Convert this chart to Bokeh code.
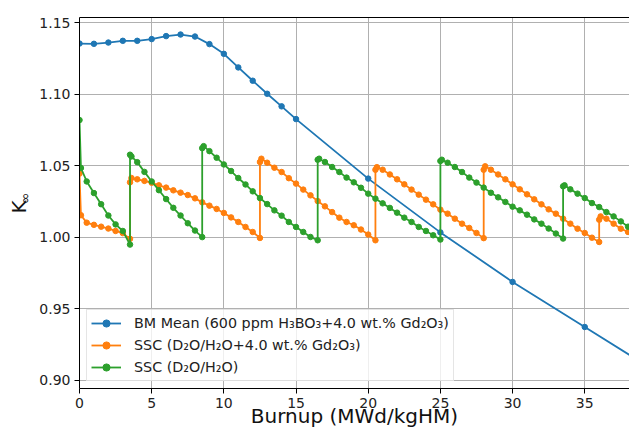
import math
from bokeh.plotting import figure
from bokeh.models import Range1d, FixedTicker, LinearAxis, Label, Title
from bokeh.embed import file_html
from bokeh.resources import INLINE

# ---------------- data ----------------
bm_x = [0, 1, 2, 3, 4, 5, 6, 7, 8, 9, 10, 11, 12, 13, 14, 15, 20, 25, 30, 35, 40]
bm_y = [1.1355, 1.1353, 1.1362, 1.1374, 1.1374, 1.1386, 1.1407, 1.1418, 1.1404, 1.1351,
        1.1283, 1.1188, 1.1095, 1.1004, 1.0916, 1.0827, 1.0411, 1.0035, 0.9689, 0.9374, 0.9059]

gd_x = [0, 0.1, 0.5, 1.0, 1.5, 2.0, 2.5, 3.0, 3.5,
        3.5, 3.6, 4.0, 4.5, 5.0, 5.5, 6.0, 6.5, 7.0, 7.5, 8.0, 8.5, 9.0, 9.5, 10.0, 10.5, 11.0, 11.5, 12.0, 12.5,
        12.5, 12.6, 13.0, 13.5, 14.0, 14.5, 15.0, 15.5, 16.0, 16.5, 17.0, 17.5, 18.0, 18.5, 19.0, 19.5, 20.0, 20.5,
        20.5, 20.6, 21.0, 21.5, 22.0, 22.5, 23.0, 23.5, 24.0, 24.5, 25.0, 25.5, 26.0, 26.5, 27.0, 27.5, 28.0,
        28.0, 28.1, 28.5, 29.0, 29.5, 30.0, 30.5, 31.0, 31.5, 32.0, 32.5, 33.0, 33.5, 34.0, 34.5, 35.0, 35.5, 36.0,
        36.0, 36.1, 36.5, 37.0, 37.5, 38.0, 38.5]
gd_y = [1.0446, 1.0155, 1.0103, 1.0088, 1.0075, 1.0062, 1.0045, 1.0030, 0.9990,
        1.0385, 1.0415, 1.0406, 1.0395, 1.0382, 1.0364, 1.0348, 1.0329, 1.0313, 1.0296, 1.0273, 1.0245, 1.0222,
        1.0199, 1.0171, 1.0140, 1.0108, 1.0073, 1.0038, 0.9996,
        1.0527, 1.0550, 1.0522, 1.0487, 1.0457, 1.0414, 1.0376, 1.0334, 1.0294, 1.0254, 1.0217, 1.0177, 1.0138,
        1.0108, 1.0085, 1.0055, 1.0020, 0.9980,
        1.0473, 1.0491, 1.0473, 1.0440, 1.0406, 1.0371, 1.0334, 1.0299, 1.0264, 1.0231, 1.0194, 1.0166, 1.0131,
        1.0096, 1.0066, 1.0031, 0.9995,
        1.0473, 1.0497, 1.0473, 1.0440, 1.0406, 1.0371, 1.0336, 1.0301, 1.0266, 1.0231, 1.0196, 1.0166, 1.0131,
        1.0096, 1.0061, 1.0031, 0.9998, 0.9968,
        1.0124, 1.0147, 1.0131, 1.0096, 1.0061, 1.0038, 1.0005]

ssc_x = [0, 0.1, 0.5, 1.0, 1.5, 2.0, 2.5, 3.0, 3.5,
         3.5, 3.6, 4.0, 4.5, 5.0, 5.5, 6.0, 6.5, 7.0, 7.5, 8.0, 8.5,
         8.5, 8.6, 9.0, 9.5, 10.0, 10.5, 11.0, 11.5, 12.0, 12.5, 13.0, 13.5, 14.0, 14.5, 15.0, 15.5, 16.0, 16.5,
         16.5, 16.6, 17.0, 17.5, 18.0, 18.5, 19.0, 19.5, 20.0, 20.5, 21.0, 21.5, 22.0, 22.5, 23.0, 23.5, 24.0, 24.5, 25.0,
         25.0, 25.1, 25.5, 26.0, 26.5, 27.0, 27.5, 28.0, 28.5, 29.0, 29.5, 30.0, 30.5, 31.0, 31.5, 32.0, 32.5, 33.0, 33.5,
         33.5, 33.6, 34.0, 34.5, 35.0, 35.5, 36.0, 36.5, 37.0, 37.5, 38.0, 38.5]
ssc_y = [1.0820, 1.0485, 1.0391, 1.0310, 1.0232, 1.0153, 1.0091, 1.0045, 0.9950,
         1.0578, 1.0566, 1.0526, 1.0458, 1.0391, 1.0330, 1.0268, 1.0207, 1.0153, 1.0099, 1.0048, 1.0002,
         1.0624, 1.0638, 1.0603, 1.0557, 1.0510, 1.0464, 1.0415, 1.0370, 1.0322, 1.0275, 1.0233, 1.0189, 1.0152,
         1.0108, 1.0073, 1.0038, 1.0003, 0.9980,
         1.0543, 1.0550, 1.0527, 1.0492, 1.0457, 1.0418, 1.0385, 1.0347, 1.0306, 1.0271, 1.0238, 1.0206, 1.0173,
         1.0138, 1.0108, 1.0073, 1.0045, 1.0015, 0.9985,
         1.0534, 1.0543, 1.0522, 1.0492, 1.0457, 1.0418, 1.0383, 1.0348, 1.0312, 1.0280, 1.0248, 1.0215, 1.0189,
         1.0159, 1.0126, 1.0096, 1.0062, 1.0027, 0.9992,
         1.0357, 1.0364, 1.0336, 1.0306, 1.0275, 1.0240, 1.0212, 1.0177, 1.0147, 1.0112, 1.0075, 1.0043]

x_ticks = [0, 5, 10, 15, 20, 25, 30, 35]
y_ticks = [0.90, 0.95, 1.00, 1.05, 1.10, 1.15]
y_tick_labels = ["0.90", "0.95", "1.00", "1.05", "1.10", "1.15"]

labels = ["BM Mean (600 ppm H\u2083BO\u2083+4.0 wt.% Gd\u2082O\u2083)",
          "SSC (D\u2082O/H\u2082O+4.0 wt.% Gd\u2082O\u2083)",
          "SSC (D\u2082O/H\u2082O)"]
colors = ["#1f77b4", "#ff7f0e", "#2ca02c"]

FONT = "DejaVu Sans"

# ---------------- figure ----------------
X0, X1 = 0.0, 38.1
Y0, Y1 = 0.8944, 1.1537
W, H = 629, 430

p = figure(width=W, height=H, output_backend="svg", toolbar_location=None,
           x_range=Range1d(X0, X1), y_range=Range1d(Y0, Y1),
           min_border_left=79, min_border_right=0, min_border_top=17, min_border_bottom=42)
p.outline_line_color = None
p.background_fill_color = "white"
p.border_fill_color = "white"

for ax in (p.xaxis[0], p.yaxis[0]):
    ax.axis_line_color = "black"
    ax.axis_line_width = 1
    ax.major_tick_line_color = "black"
    ax.major_tick_out = 5
    ax.major_tick_in = 0
    ax.minor_tick_line_color = None
    ax.major_label_text_font = FONT
    ax.major_label_text_font_size = "14px"
    ax.major_label_text_color = "#222222"
p.xaxis.major_label_standoff = 4
p.yaxis.major_label_standoff = 4

p.xaxis.ticker = FixedTicker(ticks=x_ticks)
p.yaxis.ticker = FixedTicker(ticks=y_ticks)
p.yaxis.major_label_overrides = {t: s for t, s in zip(y_ticks, y_tick_labels)}

p.xgrid.grid_line_color = "#b0b0b0"
p.ygrid.grid_line_color = "#b0b0b0"
p.xgrid.grid_line_width = 1
p.ygrid.grid_line_width = 1

top = LinearAxis(ticker=FixedTicker(ticks=[]), major_label_text_font_size="0px",
                 major_tick_line_color=None, minor_tick_line_color=None,
                 axis_line_color="black", major_label_standoff=0, axis_label_standoff=0)
p.add_layout(top, "above")

# x title as a Title in the bottom panel (negative standoff lets it sit low, as in the original)
xtitle = Title(text="Burnup (MWd/kgHM)", text_font=FONT, text_font_size="20px",
               text_font_style="normal", text_color="#111111", align="center", standoff=-18)
p.add_layout(xtitle, "below")

series = [(bm_x, bm_y), (gd_x, gd_y), (ssc_x, ssc_y)]
for (xs, ys), lab, col in zip(series, labels, colors):
    p.line(xs, ys, line_color=col, line_width=1.8, legend_label=lab)
    p.scatter(xs, ys, size=5.5, fill_color=col, line_color=col, legend_label=lab)

lg = p.legend[0]
lg.location = (7, 7)
lg.label_text_font = FONT
lg.label_text_font_size = "14.3px"
lg.label_text_color = "#222222"
lg.glyph_width = 30
lg.glyph_height = 18
lg.label_height = 18
lg.label_standoff = 13
lg.spacing = 4
lg.padding = 4
lg.margin = 0
lg.border_line_color = "#cccccc"
lg.border_line_width = 1
lg.background_fill_alpha = 0.8

# y title "K" with subscript infinity, as labels living in side panels (not clipped to frame)
klab = Label(x=6.3, y=175, x_units="screen", y_units="screen",
             text="K", angle=math.pi / 2, text_font=FONT,
             text_font_size="20px", text_align="left", text_baseline="alphabetic",
             text_color="#111111")
inf = Label(x=-54.4, y=-186.5, x_units="screen", y_units="screen",
            text="\u221e", angle=math.pi / 2, text_font=FONT,
            text_font_size="14px", text_align="left", text_baseline="alphabetic",
            text_color="#111111")
p.add_layout(klab, "left")
p.add_layout(inf, "above")

open("out.html", "w").write(file_html(p, INLINE))
